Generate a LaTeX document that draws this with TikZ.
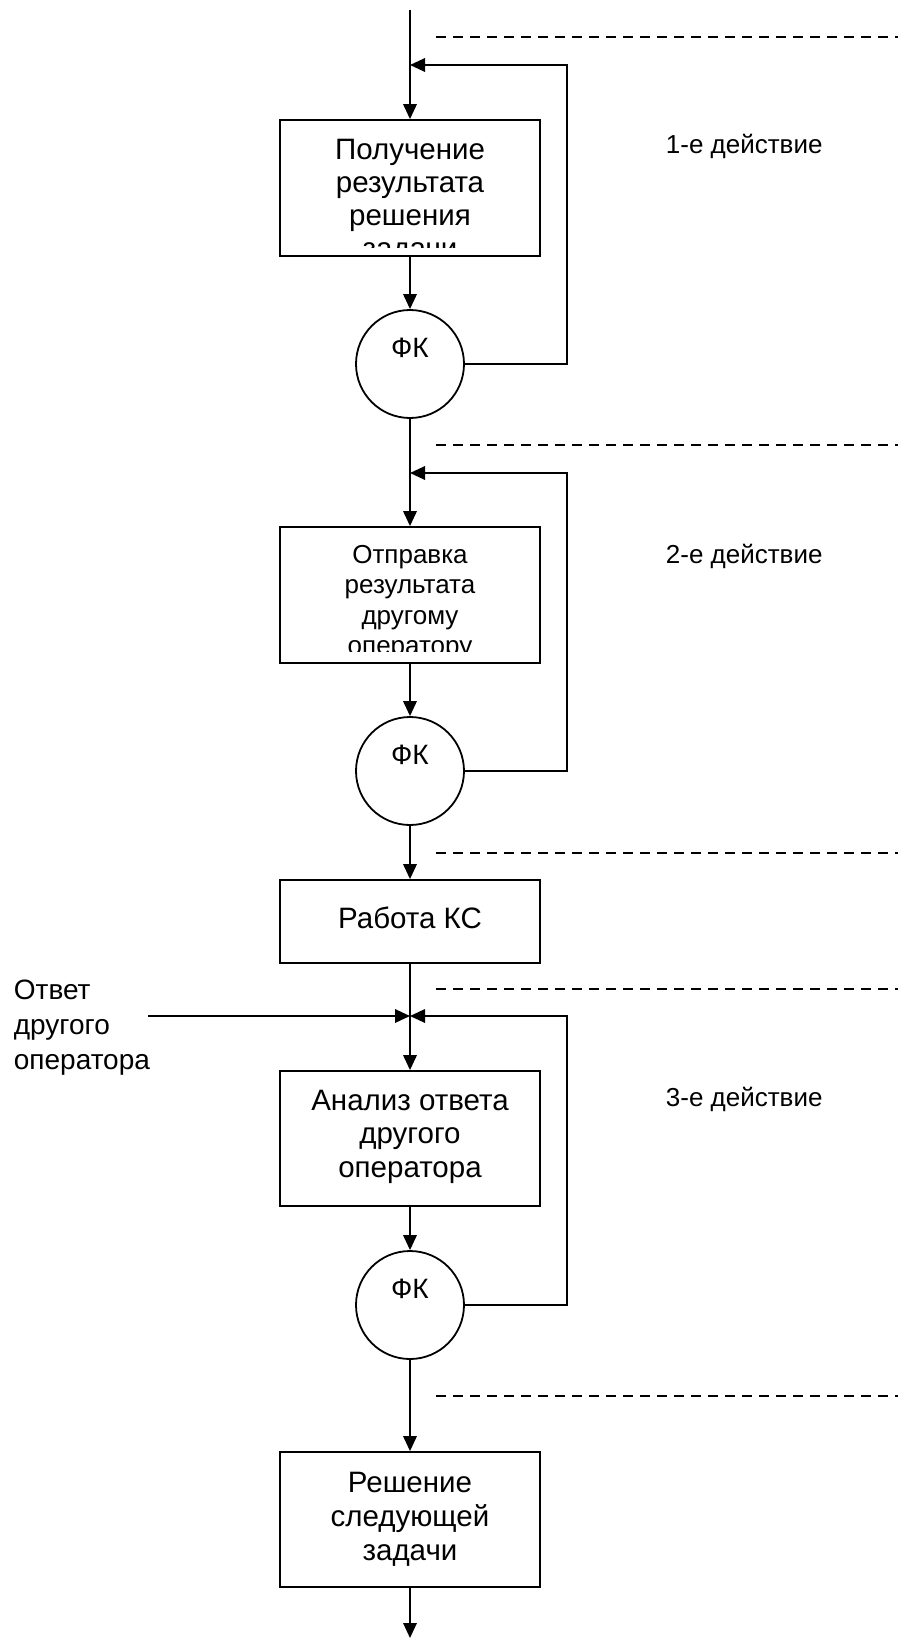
\documentclass[tikz,border=0pt]{standalone}
\usepackage{fontspec}
\setmainfont{Liberation Sans}
\usetikzlibrary{arrows.meta}
\begin{document}
\begin{tikzpicture}[x=1pt,y=-1pt,line width=1.8pt,
  flow/.style={-{Triangle[length=15pt,width=13.5pt]}},
  stepbox/.style={draw,rectangle,minimum width=260pt,inner sep=0pt},
  fk/.style={draw,circle,minimum size=108pt,inner sep=0pt,
    font=\fontsize{28}{28}\selectfont,text height=19pt,text depth=33pt},
  sep/.style={line width=1.4pt,dash pattern=on 10pt off 7pt},
  txt/.style={inner sep=0pt,align=center,anchor=north},
  side/.style={inner sep=0pt,anchor=north west,font=\fontsize{26}{30}\selectfont}]
\useasboundingbox (0,0) rectangle (898,1638);

% blocks of the chain
\node[stepbox,minimum height=136pt] (b1) at (410,188) {};
\node[fk] (c1) at (410,364) {ФК};
\node[stepbox,minimum height=136pt] (b2) at (410,595) {};
\node[fk] (c2) at (410,771) {ФК};
\node[stepbox,minimum height=83pt] (b3) at (410,921.5) {};
\node[stepbox,minimum height=135pt] (b4) at (410,1138.5) {};
\node[fk] (c3) at (410,1305) {ФК};
\node[stepbox,minimum height=135pt] (b5) at (410,1519.5) {};

% texts of the blocks (the first two are cut off at the bottom)
\begin{scope}
  \clip (282,122) rectangle (538,247);
  \node[txt,font=\fontsize{29.5}{33}\selectfont] (t1) at (410,138)
    {Получение\\результата\\решения\\задачи};
\end{scope}
\begin{scope}
  \clip (282,529) rectangle (538,651);
  \node[txt,font=\fontsize{26}{30.5}\selectfont] (t2) at (410,544)
    {Отправка\\результата\\другому\\оператору};
\end{scope}
\node[txt,font=\fontsize{29.5}{31}\selectfont] (t3) at (410,906) {Работа КС};
\node[txt,font=\fontsize{29.5}{33.6}\selectfont] (t4) at (410,1089)
  {Анализ ответа\\другого\\оператора};
\node[txt,font=\fontsize{29.5}{34}\selectfont] (t5) at (410,1471)
  {Решение\\следующей\\задачи};

% side labels
\node[side] (a1) at (665,133) {1-е действие};
\node[side] (a2) at (665,543) {2-е действие};
\node[side] (a3) at (665,1086) {3-е действие};
\node[inner sep=0pt,anchor=north west,align=left,
  font=\fontsize{28}{35}\selectfont] (ans) at (13,979)
  {Ответ\\другого\\оператора};

% helper points
\coordinate (top) at (410,10);
\coordinate (j1) at (410,65);
\coordinate (r1) at (567,65);
\coordinate (j2) at (410,473);
\coordinate (r2) at (567,473);
\coordinate (j3) at (410,1016);
\coordinate (r3) at (567,1016);
\coordinate (in3) at (148,1016);
\coordinate (bottom) at (410,1638);

% main flow
\draw[flow] (top) -- (b1.north);
\draw[flow] (b1.south) -- (c1.north);
\draw[flow] (c1.south) -- (b2.north);
\draw[flow] (b2.south) -- (c2.north);
\draw[flow] (c2.south) -- (b3.north);
\draw[flow] (b3.south) -- (b4.north);
\draw[flow] (b4.south) -- (c3.north);
\draw[flow] (c3.south) -- (b5.north);
\draw[flow] (b5.south) -- (bottom);

% returns after a failed check
\draw[flow] (c1.east) -| (r1) -- (j1);
\draw[flow] (c2.east) -| (r2) -- (j2);
\draw[flow] (c3.east) -| (r3) -- (j3);
\draw[flow] (in3) -- (j3);

% boundaries of the actions
\draw[sep] (436,37) -- (898,37);
\draw[sep] (436,445) -- (898,445);
\draw[sep] (436,853) -- (898,853);
\draw[sep] (436,989) -- (898,989);
\draw[sep] (436,1396) -- (898,1396);
\end{tikzpicture}
\end{document}
